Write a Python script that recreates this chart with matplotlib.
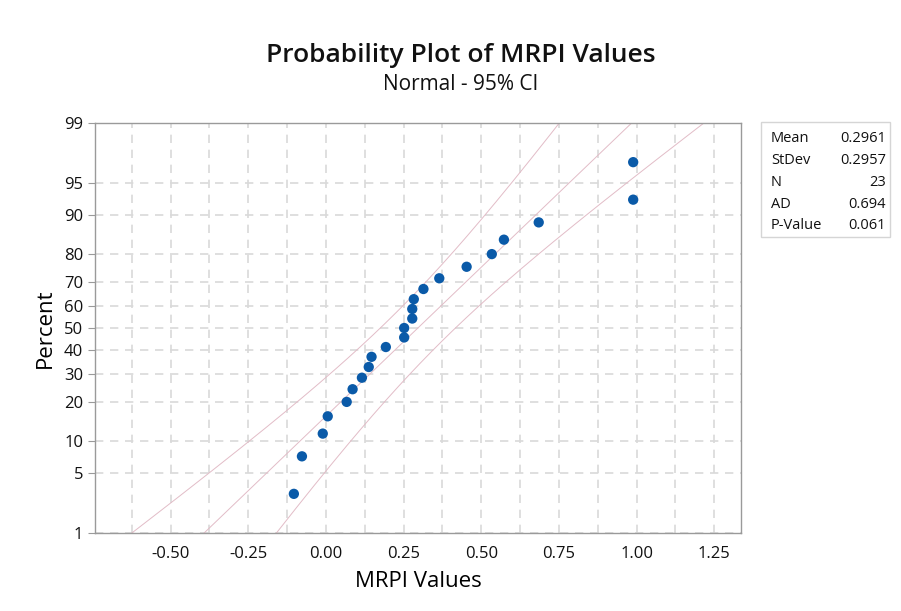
from statistics import NormalDist

import numpy as np
import matplotlib
matplotlib.use("Agg")
import matplotlib.pyplot as plt
from matplotlib.patches import Rectangle
from matplotlib.ticker import FixedLocator, MultipleLocator

# MRPI sample (23 observations)
mrpi = [-0.103, -0.077, -0.010, 0.006, 0.067, 0.086, 0.116, 0.138, 0.147, 0.193,
        0.252, 0.252, 0.278, 0.278, 0.283, 0.314, 0.365, 0.453, 0.534, 0.573,
        0.685, 0.989, 0.989]

# summary statistics shown in the side table
stat_names = ["Mean", "StDev", "N", "AD", "P-Value"]
stat_values = ["0.2961", "0.2957", "23", "0.694", "0.061"]
mean_val = 0.2961
stdev_val = 0.2957

pct_ticks = [1, 5, 10, 20, 30, 40, 50, 60, 70, 80, 90, 95, 99]
x_ticks = [-0.50, -0.25, 0.00, 0.25, 0.50, 0.75, 1.00, 1.25]

plt.rcParams['font.family'] = ['Open Sans', 'DejaVu Sans']
plt.rcParams['text.color'] = '#111111'

nd = NormalDist()
xs = np.sort(np.array(mrpi))
n = len(xs)
# median rank plotting positions
probs = (np.arange(1, n + 1) - 0.3) / (n + 0.4)
z_pts = np.array([nd.inv_cdf(p) for p in probs])

# fitted normal line with 95% confidence band
z_line = np.linspace(-3.2, 3.2, 200)
fit = mean_val + stdev_val * z_line
se = stdev_val * np.sqrt(1.0 / n + z_line ** 2 / (2.0 * n))
lower = fit - 1.96 * se
upper = fit + 1.96 * se

fig = plt.figure(figsize=(9.01, 6.11), dpi=100)
ax = fig.add_axes([95 / 901, 1 - 533 / 611, 646 / 901, 410 / 611])

line_col = "#e2bcc7"
for xl in (fit, lower, upper):
    ax.plot(xl, z_line, color=line_col, lw=0.7, zorder=2)
ax.scatter(xs, z_pts, s=55, color="#0a5aa8", edgecolors="none", zorder=3)

ax.set_xlim(-0.743, 1.336)
ax.set_ylim(nd.inv_cdf(0.01), nd.inv_cdf(0.99))

ax.set_xticks(x_ticks)
ax.set_xticklabels([f"{v:.2f}" for v in x_ticks])
ax.xaxis.set_minor_locator(MultipleLocator(0.125))
ax.yaxis.set_major_locator(FixedLocator([nd.inv_cdf(p / 100) for p in pct_ticks]))
ax.set_yticklabels([str(p) for p in pct_ticks])

grid_kw = dict(color="#d9d9d9", lw=1.2, ls=(0, (5, 4)))
ax.grid(True, which="major", axis="y", **grid_kw)
ax.grid(True, which="both", axis="x", **grid_kw)
ax.set_axisbelow(True)

for sp in ax.spines.values():
    sp.set_color("#9a9a9a")
    sp.set_linewidth(1.0)
ax.tick_params(axis="x", which="both", length=0, pad=9, labelsize=12, colors="#111111")
ax.tick_params(axis="y", length=5, color="#9a9a9a", labelsize=12, labelcolor="#111111")

ax.set_xlabel("MRPI Values", fontsize=16, labelpad=7)
ax.set_ylabel("Percent", fontsize=16, labelpad=6)

fig.text(461 / 901, 1 - 56 / 611, "Probability Plot of MRPI Values",
         ha="center", va="center", fontsize=19, fontweight="semibold")
fig.text(461 / 901, 1 - 85 / 611, "Normal - 95% CI",
         ha="center", va="center", fontsize=15)

# statistics table on the right
fig.patches.append(Rectangle((761 / 901, 1 - 237 / 611), 129 / 901, 115 / 611,
                             transform=fig.transFigure, fill=False,
                             edgecolor="#d5d5d5", lw=1.0))
for i, (name, val) in enumerate(zip(stat_names, stat_values)):
    y = 1 - (139 + i * 21.7) / 611
    fig.text(771 / 901, y, name, ha="left", va="center", fontsize=10.5)
    fig.text(886 / 901, y, val, ha="right", va="center", fontsize=10.5)

fig.savefig("out.png", dpi=100)
